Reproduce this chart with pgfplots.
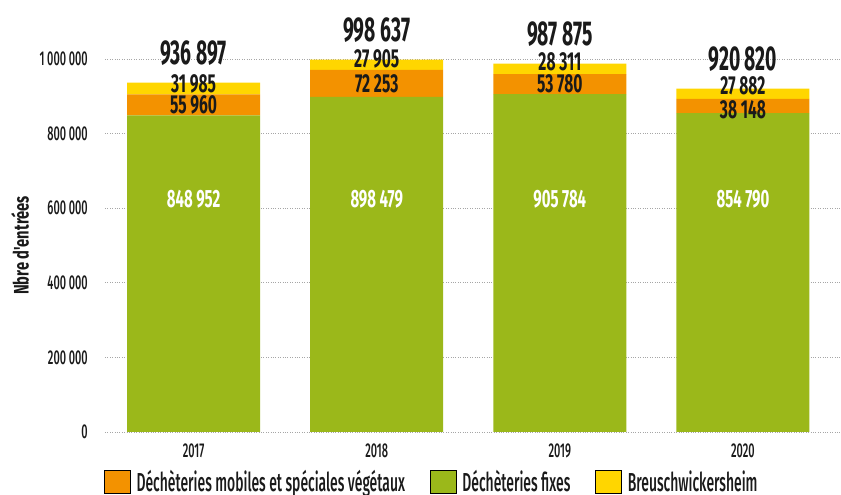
\documentclass[border=0pt]{standalone}
\usepackage{fontspec}
\IfFontExistsTF{Fira Sans Medium}{%
\setmainfont{Fira Sans Medium}[FakeStretch=0.55, BoldFont=Fira Sans Bold]
\newfontfamily\legfont{Fira Sans Medium}[FakeStretch=0.535]
}{%
\setmainfont{Fira Sans}[FakeStretch=0.58]
\newfontfamily\legfont{Fira Sans}[FakeStretch=0.535]
}
\newfontfamily\totfont{Fira Sans}[FakeStretch=0.56]
\newfontfamily\labfont{Fira Sans}[FakeStretch=0.6]
\newfontfamily\ylabfont{Fira Sans}[FakeStretch=0.7]
\usepackage{pgfplots}
\pgfplotsset{compat=1.18}
\definecolor{cgreen}{HTML}{9BB81A}
\definecolor{corange}{HTML}{F39200}
\definecolor{cyellow}{HTML}{FFD600}
\definecolor{ctext}{HTML}{1A1A1A}
\tikzset{
 lab/.style={font=\labfont\bfseries\fontsize{26}{28}\selectfont, text=ctext, anchor=center, inner sep=0pt},
 tot/.style={font=\totfont\bfseries\fontsize{34.5}{36}\selectfont, text=ctext, anchor=base, inner sep=0pt},
 glab/.style={font=\labfont\bfseries\fontsize{25}{27}\selectfont, text=white, anchor=center, inner sep=0pt},
}
\begin{document}
\begin{tikzpicture}
\useasboundingbox (-105pt,-63pt) rectangle (736pt,432pt);
\begin{axis}[
 at={(0,0)}, anchor=south west,
 scale only axis, width=735pt, height=373pt,
 xmin=-0.484, xmax=3.53, ymin=0, ymax=1000000,
 scaled y ticks=false,
 ybar stacked, bar width=133pt,
 clip=false,
 axis line style={draw=none},
 major tick length=0pt,
 xtick={0,1,2,3}, xticklabels={2017,2018,2019,2020},
 ytick={0,200000,400000,600000,800000,1000000},
 yticklabels={0,200 000,400 000,600 000,800 000,1 000 000},
 ymajorgrids, grid style={dotted, line width=0.9pt, black!35},
 yticklabel style={font=\fontsize{20}{22}\selectfont, text=ctext, anchor=east, inner sep=0pt, xshift=-17pt},
 xticklabel style={font=\fontsize{20}{22}\selectfont, text=ctext, anchor=north, inner sep=0pt, yshift=-12pt},
 every axis y label/.style={at={(axis description cs:0,0.5)}, rotate=90, anchor=center, yshift=85pt, font=\ylabfont\bfseries\fontsize{21}{23}\selectfont, text=ctext},
 ylabel={Nbre d'entrées},
 legend columns=3,
 legend image code/.code={\fill[#1] (0pt,-11.5pt) rectangle (26pt,11.5pt);},
 legend style={at={(axis description cs:0,0)}, anchor=north west, xshift=-1pt, yshift=-38pt, draw=none, fill=none, inner sep=0pt, font=\legfont\fontsize{26}{28}\selectfont, text=ctext, /tikz/every odd column/.append style={column sep=6pt}, /tikz/every even column/.append style={column sep=25pt}, cells={anchor=west}, nodes={inner sep=0pt}},
]
\addlegendimage{fill=corange}
\addlegendentry{Déchèteries mobiles et spéciales végétaux}
\addlegendimage{fill=cgreen}
\addlegendentry{Déchèteries fixes}
\addlegendimage{fill=cyellow}
\addlegendentry{Breuschwickersheim}
\addplot[fill=cgreen, draw=none, forget plot] coordinates {(0,848952) (1,898479) (2,905784) (3,854790)};
\addplot[fill=corange, draw=none, forget plot] coordinates {(0,55960) (1,72253) (2,53780) (3,38148)};
\addplot[fill=cyellow, draw=none, forget plot] coordinates {(0,31985) (1,27905) (2,28311) (3,27882)};
\coordinate (g0) at (axis cs:0,625000);
\coordinate (g1) at (axis cs:1,625000);
\coordinate (g2) at (axis cs:2,625000);
\coordinate (g3) at (axis cs:3,625000);
\coordinate (o0) at (axis cs:0,876932);
\coordinate (o1) at (axis cs:1,934605);
\coordinate (o2) at (axis cs:2,932674);
\coordinate (o3) at (axis cs:3,873864);
\coordinate (y0) at (axis cs:0,920904);
\coordinate (y1) at (axis cs:1,984684);
\coordinate (y2) at (axis cs:2,973719);
\coordinate (y3) at (axis cs:3,906879);
\coordinate (t0) at (axis cs:0,936897);
\coordinate (t1) at (axis cs:1,998637);
\coordinate (t2) at (axis cs:2,987875);
\coordinate (t3) at (axis cs:3,920820);
\end{axis}
% green labels
\node[glab] at (g0) {848 952};
\node[glab] at (g1) {898 479};
\node[glab] at (g2) {905 784};
\node[glab] at (g3) {854 790};
% orange labels
\node[lab] at (o0) {55 960};
\node[lab] at (o1) {72 253};
\node[lab] at (o2) {53 780};
\node[lab, yshift=-4pt] at (o3) {38 148};
% yellow labels
\node[lab, yshift=5pt] at (y0) {31 985};
\node[lab, yshift=6pt] at (y1) {27 905};
\node[lab, yshift=7pt] at (y2) {28 311};
\node[lab, yshift=8pt] at (y3) {27 882};
% totals
\node[tot, yshift=18pt] at (t0) {936 897};
\node[tot, yshift=18pt] at (t1) {998 637};
\node[tot, yshift=18pt] at (t2) {987 875};
\node[tot, yshift=18pt] at (t3) {920 820};
\end{tikzpicture}
\end{document}
